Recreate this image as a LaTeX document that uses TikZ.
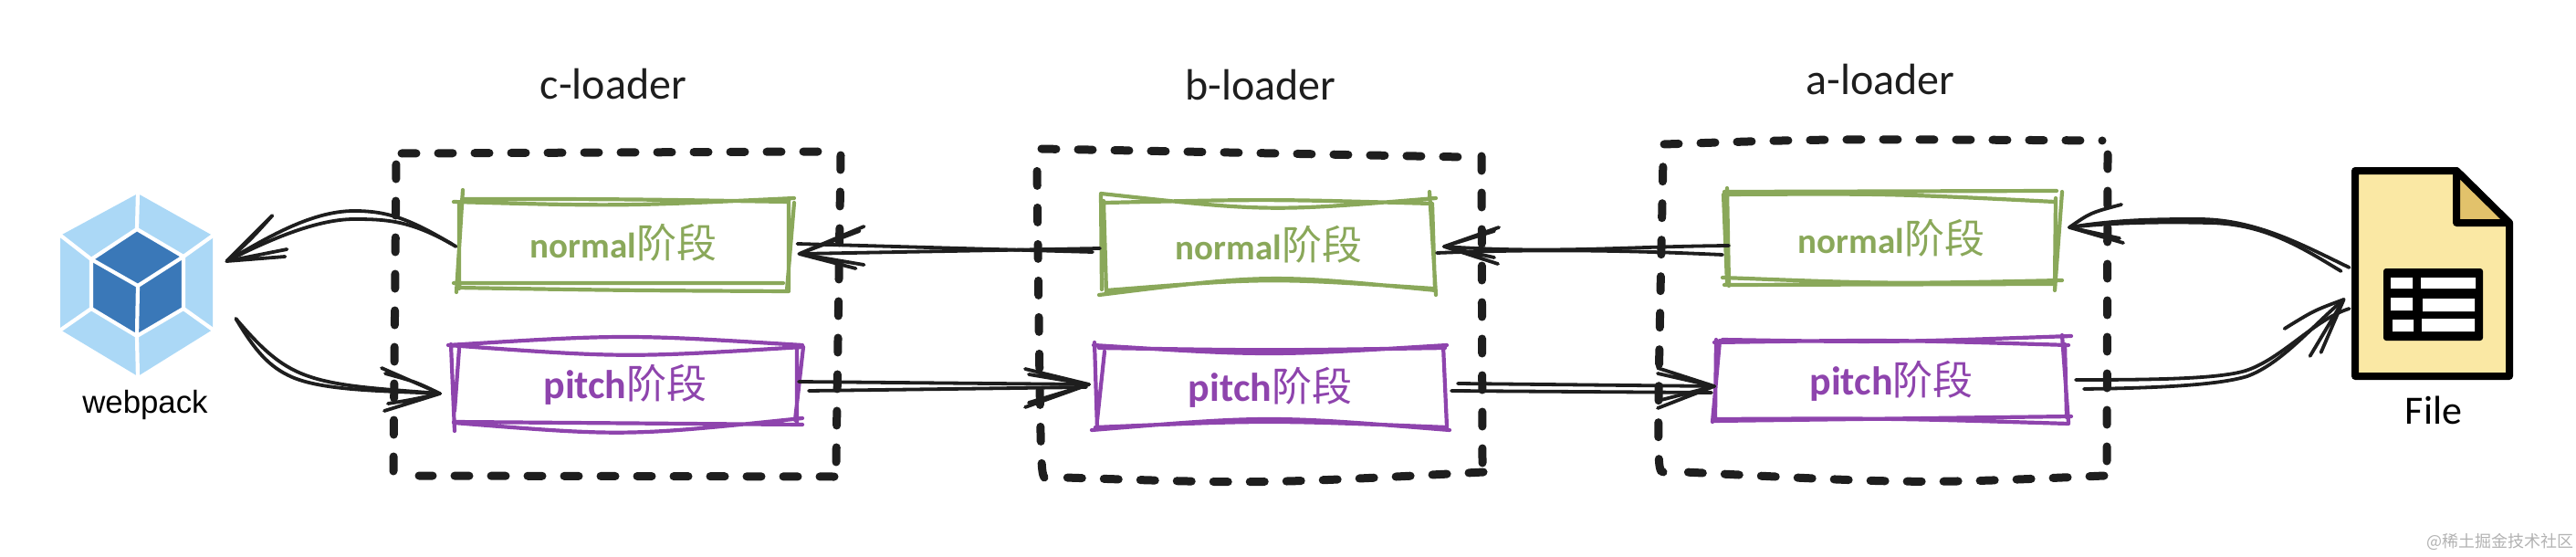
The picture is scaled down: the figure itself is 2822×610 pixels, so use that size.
\documentclass[tikz,border=0pt]{standalone}
\usepackage{fontspec}
\setmainfont{Carlito}
\setsansfont{Liberation Sans}
\newfontfamily\cjkf{Noto Sans CJK SC}
\definecolor{gc}{HTML}{8AA85A}
\definecolor{pc}{HTML}{8E44AD}
\definecolor{ink}{HTML}{1E1E1E}
\definecolor{wplight}{HTML}{ABD8F6}
\definecolor{wpdark}{HTML}{3A78B8}
\definecolor{paper}{HTML}{FAE8A4}
\definecolor{foldc}{HTML}{E2C26B}
\newcommand\normaltxt[1]{\raisebox{#1}{\textcolor{gc}{\fontsize{19.5}{22}\selectfont\bfseries normal\cjkf\mdseries\fontsize{22}{24}\selectfont 阶段}}}
\newcommand\pitchtxt[1]{\raisebox{#1}{\textcolor{pc}{\fontsize{22}{24}\selectfont\bfseries pitch\cjkf\mdseries 阶段}}}
\tikzset{
  x=0.5pt,y=-0.5pt,
  stage/.style={inner sep=0pt,outer sep=0pt,minimum width=#1},
  dashside/.style={draw=ink,line width=4.5pt,line cap=round,dash pattern=on 8pt off 12pt},
  gsk/.style={draw=gc,line width=2.1pt,line cap=round,line join=round},
  psk/.style={draw=pc,line width=2.1pt,line cap=round,line join=round},
  conn/.style={draw=ink,line width=1.9pt,line cap=round,line join=round},
  title/.style={inner sep=0pt,font=\fontsize{24}{27}\selectfont,text=ink},
  wpline/.style={draw=white,line width=2.1pt}
}
\begin{document}
\begin{tikzpicture}
\useasboundingbox (0,0) rectangle (2822,610);
% ---------- titles
\node[title] (tc) at (672,92) {c-loader};
\node[title] (tb) at (1381,93) {b-loader};
\node[title] (ta) at (2060,87) {a-loader};
% ---------- dashed frames
\draw[dashside] (440,168) -- (896,166);
\draw[dashside] (921,170) -- (916,507);
\draw[dashside] (914,522) -- (459,521);
\draw[dashside] (431,516) -- (434,177);
\draw[dashside] (1141,163) -- (1603,172);
\draw[dashside] (1623,171) -- (1624,508);
\draw[dashside] (1625,517) .. controls (1380,530) .. (1167,523);
\draw[dashside] (1144,523) .. controls (1140,515) .. (1136,183);
\draw[dashside] (1823,158) .. controls (2000,152) .. (2303,154);
\draw[dashside] (2309,169) -- (2308,507);
\draw[dashside] (2305,521) .. controls (2100,530) .. (1846,517);
\draw[dashside] (1822,517) .. controls (1815,515) .. (1822,173);
% ---------- stage nodes
\node[stage=361pt*0.5,minimum height=47pt] (cn) at (683,266) {\normaltxt{2pt}};
\node[stage=382pt*0.5,minimum height=42.5pt] (cp) at (685,421) {\pitchtxt{.5pt}};
\node[stage=360pt*0.5,minimum height=49pt] (bn) at (1390,269) {\normaltxt{3pt}};
\node[stage=381pt*0.5,minimum height=44pt] (bp) at (1391.5,424) {\pitchtxt{1pt}};
\node[stage=362pt*0.5,minimum height=47.5pt] (an) at (2072,260.5) {\normaltxt{1pt}};
\node[stage=384pt*0.5,minimum height=42.5pt] (ap) at (2072,417.5) {\pitchtxt{1pt}};
% ---------- sketchy outlines
\path[gsk] (497,221) .. controls (680,226) .. (870,217) (506,218) .. controls (680,218) .. (864,221)
  (507,208) -- (500,320) (503,222) -- (503,316)
  (870,222) -- (862,318) (864,218) -- (864,317)
  (497,310) -- (858,310) (500,315) .. controls (680,318) .. (864,319);
\path[psk] (491,378) .. controls (685,366) .. (879,378) (491,378) .. controls (685,392) .. (879,380)
  (494,377) -- (498,472) (503,382) -- (498,450)
  (873,380) -- (873,463) (880,380) -- (871,460)
  (497,462) -- (879,465) (497,463) .. controls (685,478) .. (879,458);
\path[gsk] (1206,212) .. controls (1390,232) .. (1573,217) (1210,222) .. controls (1390,218) .. (1569,223)
  (1209,220) -- (1212,320) (1206,213) -- (1207,317)
  (1566,210) -- (1573,323) (1569,223) -- (1572,317)
  (1204,323) .. controls (1390,300) .. (1573,318) (1212,318) .. controls (1390,304) .. (1570,316);
\path[psk] (1198,378) .. controls (1390,390) .. (1585,378) (1204,381) .. controls (1390,384) .. (1583,381)
  (1199,375) -- (1202,470) (1210,385) -- (1202,460)
  (1581,378) -- (1585,467)
  (1196,471) .. controls (1390,455) .. (1588,471) (1200,468) .. controls (1390,460) .. (1585,468);
\path[gsk] (1889,210) -- (2253,209) (1889,213) .. controls (2070,212) .. (2251,221)
  (1892,206) -- (1894,313) (1888,213) -- (1892,310)
  (2259,210) -- (2251,318) (2252,217) -- (2251,310)
  (1887,304) .. controls (2070,311) .. (2259,307) (1889,312) -- (2251,311);
\path[psk] (1887,372) .. controls (2070,375) .. (2269,368) (1878,375) .. controls (2070,372) .. (2266,378)
  (1884,373) -- (1876,462) (1880,372) -- (1879,457)
  (2259,367) -- (2266,463) (2262,377) -- (2264,457)
  (1876,461) -- (2269,456) (1878,459) .. controls (2070,458) .. (2266,464);
% ---------- webpack logo
\node[inner sep=0pt,minimum width=84pt,minimum height=100pt] (wp) at (150,312) {};
\fill[wplight] (151,212) -- (233,258) -- (233,361) -- (151,412) -- (66,361) -- (66,258) -- cycle;
\draw[wpline] (151,210) -- (150,251) (236,256) -- (201,281) (236,363) -- (201,338)
  (151,414) -- (150,368) (64,363) -- (100,338) (64,256) -- (100,284);
\filldraw[fill=wpdark,draw=white,line width=2.1pt,line join=round] (150,251) -- (201,281) -- (201,338) -- (150,368) -- (100,338) -- (100,284) -- cycle;
\draw[wpline] (100,284) -- (151,313) -- (201,281) (151,313) -- (150,368);
\node[inner sep=0pt,font=\sffamily\fontsize{17.4}{20}\selectfont] (wpl) at (159,443) {webpack};
% ---------- file icon
\node[inner sep=0pt,minimum width=86pt,minimum height=116pt] (file) at (2666,299) {};
\filldraw[fill=paper,draw=black,line width=4pt,line join=round] (2580,187) -- (2691,187) -- (2749,244) -- (2749,412) -- (2580,412) -- cycle;
\filldraw[fill=foldc,draw=black,line width=4pt,line join=round] (2691,187) -- (2691,244) -- (2749,244) -- cycle;
\fill[black,rounded corners=1.5pt] (2611,294) rectangle (2720,373);
\fill[white] (2619,304) rectangle (2643,316) (2652,304) rectangle (2712,316)
  (2619,326) rectangle (2643,340) (2654,327) rectangle (2711,341)
  (2621,350) rectangle (2644,363) (2653,349) rectangle (2711,363);
\node[inner sep=0pt,font=\fontsize{22}{25}\selectfont,text=black] (filel) at (2666,449) {File};
% ---------- arrow tips
\coordinate (t1) at ([shift={(14,-26)}]wp.east);
\coordinate (t2) at ([shift={(-12,10)}]cp.west);
\coordinate (t3) at ([shift={(12,12)}]cn.east);
\coordinate (t4) at ([shift={(-8,-3)}]bp.west);
\coordinate (t5) at ([shift={(12,1)}]bn.east);
\coordinate (t6) at ([shift={(-2,5.5)}]ap.west);
\coordinate (t7) at ([shift={(14,-11.5)}]an.east);
\coordinate (t8) at ([shift={(-12,29)}]file.west);
% ---------- connectors
\draw[conn] ([shift={(-3,4)}]cn.west) .. controls (450,240) and (425,231) .. (388,231) .. controls (340,231) and (290,262) .. (t1);
\draw[conn] ([shift={(-8,1)}]cn.west) .. controls (450,242) and (425,240) .. (388,240) .. controls (345,240) and (290,265) .. (t1);
\draw[conn] (t1) -- ++(50,-50) (t1) .. controls (275,262) .. ++(50,-50);
\draw[conn] (t1) -- ++(66,-13) (t1) -- ++(64,-5);
\draw[conn] ([shift={(24,37)}]wp.east) .. controls (285,380) and (305,400) .. (335,411) .. controls (370,424) and (420,426) .. (t2);
\draw[conn] ([shift={(24,37)}]wp.east) .. controls (280,385) and (295,402) .. (320,413) .. controls (355,428) and (420,428) .. (t2);
\draw[conn] (t2) -- ++(-64,-28) (t2) .. controls (455,418) .. ++(-60,-22);
\draw[conn] (t2) -- ++(-61,19) (t2) .. controls (450,438) .. ++(-57,11);
\draw[conn] ([shift={(-5,3)}]bn.west) -- (t3);
\draw[conn] ([shift={(-13,7)}]bn.west) -- ([shift={(-2,-11)}]t3);
\draw[conn] (t3) -- ++(71,-30) (t3) -- ++(66,-25) (t3) -- ++(71,12) (t3) -- ++(62,16);
\draw[conn] ([shift={(-1,-3)}]cp.east) -- (t4);
\draw[conn] ([shift={(10,7)}]cp.east) -- ([shift={(-3,3)}]t4);
\draw[conn] (t4) -- ++(-70,-17) (t4) -- ++(-66,-11) (t4) -- ++(-70,25) (t4) -- ++(-66,20);
\draw[conn] ([shift={(3,8.5)}]an.west) .. controls (1780,270) and (1700,278) .. (t5);
\draw[conn] ([shift={(-4,18.5)}]an.west) .. controls (1800,275) and (1700,272) .. ([shift={(-8,7)}]t5);
\draw[conn] (t5) -- ++(60,-21) (t5) -- ++(55,-17) (t5) -- ++(59,19) (t5) -- ++(55,12);
\draw[conn] ([shift={(15,-4)}]bp.east) -- (t6);
\draw[conn] ([shift={(8,4)}]bp.east) -- ([shift={(-3,7)}]t6);
\draw[conn] (t6) -- ++(-62,-20) (t6) -- ++(-62,-14) (t6) -- ++(-62,24) (t6) -- ++(-62,16);
\draw[conn] ([shift={(-6,-6)}]file.west) .. controls (2520,267) and (2470,240) .. (2408,240) .. controls (2370,240) and (2320,240) .. (t7);
\draw[conn] ([shift={(-15,-2)}]file.west) .. controls (2520,270) and (2480,245) .. (2420,244) .. controls (2380,243) and (2320,243) .. (t7);
\draw[conn] (t7) .. controls (2290,233) .. ++(57,-25) (t7) -- ++(59,17) (t7) -- ++(55,12);
\draw[conn] ([shift={(10,-1.5)}]ap.east) .. controls (2360,416) and (2430,415) .. (2460,406) .. controls (2500,393) and (2535,350) .. ([shift={(6,10)}]t8);
\draw[conn] ([shift={(19,8.5)}]ap.east) .. controls (2360,425) and (2430,422) .. (2462,412) .. controls (2500,398) and (2535,355) .. (t8);
\draw[conn] (t8) .. controls (2535,340) .. ++(-65,32) (t8) -- ++(-37,62) (t8) -- ++(-25,58);
% ---------- watermark
\node[inner sep=0pt,anchor=east,font=\cjkf\fontsize{9}{11}\selectfont,text=black!30] (wm) at (2820,593) {@稀土掘金技术社区};
\end{tikzpicture}
\end{document}
